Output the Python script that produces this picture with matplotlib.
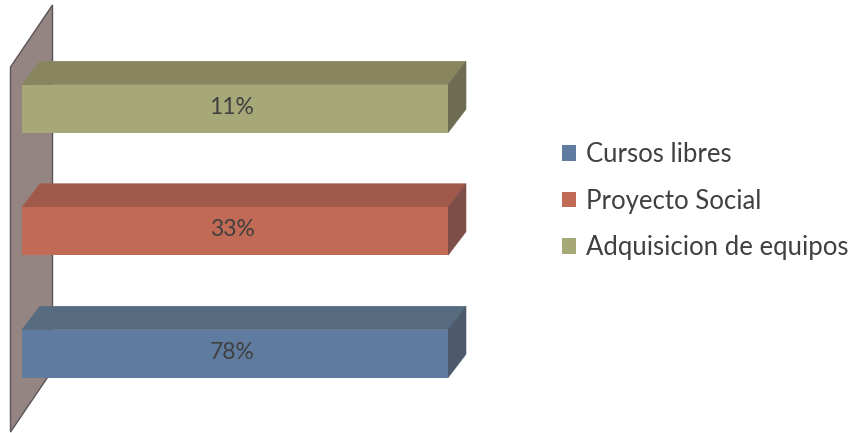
#! /usr/bin/python
import matplotlib
matplotlib.use('Agg')
import matplotlib.pyplot as plt
from matplotlib.patches import Patch, Polygon

W, H = 859, 433

categories = ['Cursos libres', 'Proyecto Social', 'Adquisicion de equipos']
percents = [78, 33, 11]
front_colors = ['#5F7BA0', '#C16A55', '#A6A878']
top_colors = ['#566A80', '#A05A4C', '#88855F']
side_colors = ['#4D5A6C', '#7E4E49', '#6E6C52']

plt.rcParams['font.family'] = ['Lato', 'DejaVu Sans']

fig = plt.figure(figsize=(W / 100, H / 100), dpi=100)
# plot area: one unit on x is the whole bar (100% stacked), one unit on y the category step
ax = fig.add_axes([22 / W, 1 - 415 / H, (448 - 22) / W, 367.5 / H])
ax.set_xlim(0, 1)
ax.set_ylim(-0.5, 2.5)
ax.axis('off')

bar_h = 48 / 122.5
dx = 18 / 426      # depth of the fake 3d, in data units
dy = 23.5 / 122.5

# back wall, sticks out past the plot area on all sides
wall = Polygon([(-0.027, -0.639), (0.0716, -0.133), (0.0716, 2.847), (-0.027, 2.341)],
               closed=True, facecolor='#958582', edgecolor='#5A5458', lw=1.0, clip_on=False, zorder=1)
ax.add_patch(wall)

for i, pct in enumerate(percents):
    lo, hi = i - bar_h / 2, i + bar_h / 2
    # every bar fills the axis, it is the only series of a 100% stack
    share = pct / pct
    # thin edge on the side faces closes the seams, front bar goes on top of them
    ax.add_patch(Polygon([(0, hi), (dx, hi + dy), (share + dx, hi + dy), (share, hi)],
                         closed=True, facecolor=top_colors[i], edgecolor=top_colors[i], lw=0.4,
                         zorder=3, clip_on=False))
    ax.add_patch(Polygon([(share, lo), (share + dx, lo + dy), (share + dx, hi + dy), (share, hi)],
                         closed=True, facecolor=side_colors[i], edgecolor=side_colors[i], lw=0.4,
                         zorder=3, clip_on=False))
    ax.barh(i, share, height=bar_h, color=front_colors[i], linewidth=0, zorder=3.5)
    ax.text(share / 2 - 0.007, i + 0.012, '%d%%' % pct, ha='center', va='center', fontsize=16.5,
            color='#404040', zorder=4)

handles = [Patch(facecolor=c, label=l) for c, l in zip(front_colors, categories)]
fig.legend(handles=handles, loc='center left', bbox_to_anchor=(562 / W, 1 - 201 / H),
           frameon=False, fontsize=18.5, labelcolor='#404040', handlelength=0.55,
           handleheight=0.55, handletextpad=0.39, labelspacing=0.84, borderpad=0, borderaxespad=0)

fig.savefig('out.png', dpi=100)
